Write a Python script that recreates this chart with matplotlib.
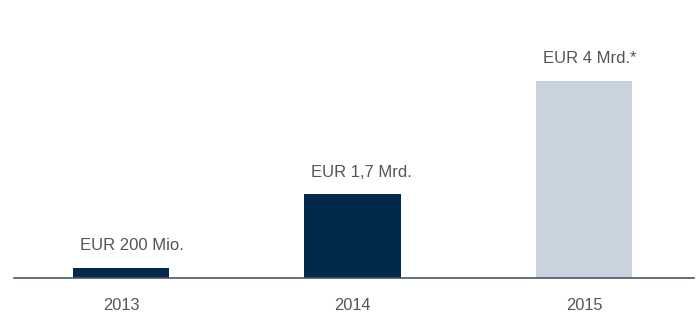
import matplotlib
matplotlib.use("Agg")
import matplotlib.pyplot as plt

years = ["2013", "2014", "2015"]
values = [0.2, 1.7, 4.0]
labels = ["EUR 200 Mio.", "EUR 1,7 Mrd.", "EUR 4 Mrd.*"]
colors = ["#00284a", "#00284a", "#c8d3dd"]

plt.rcParams['font.family'] = ['Liberation Sans', 'DejaVu Sans']

fig = plt.figure(figsize=(7.0, 3.31), dpi=100)
ax = fig.add_axes([0.0, 0.160, 1.0, 0.840])

x = list(range(len(years)))
w = 0.415
ax.bar(x, values, width=w, color=colors, zorder=2)

ax.set_xlim(-0.462 - 14/231.5, 2.475 + 6/231.5)
ax.set_ylim(0, 5.645)

for xi, v, lab in zip(x, values, labels):
    ax.annotate(lab, xy=(xi - w/2, v), xytext=(5.0, 16.0), textcoords='offset points',
                ha='left', va='center', fontsize=12, color='#555555')

for s in ['top', 'right', 'left']:
    ax.spines[s].set_visible(False)
ax.spines['bottom'].set_color('#46566b')
ax.spines['bottom'].set_linewidth(1.2)
ax.spines['bottom'].set_bounds(-0.462, 2.475)
ax.spines['bottom'].set_zorder(3)

ax.set_yticks([])
ax.set_xticks(x)
ax.set_xticklabels(years, fontsize=11.8, color='#555555')
ax.tick_params(axis='x', length=0, pad=14.5)

fig.savefig("out.png", dpi=100)
